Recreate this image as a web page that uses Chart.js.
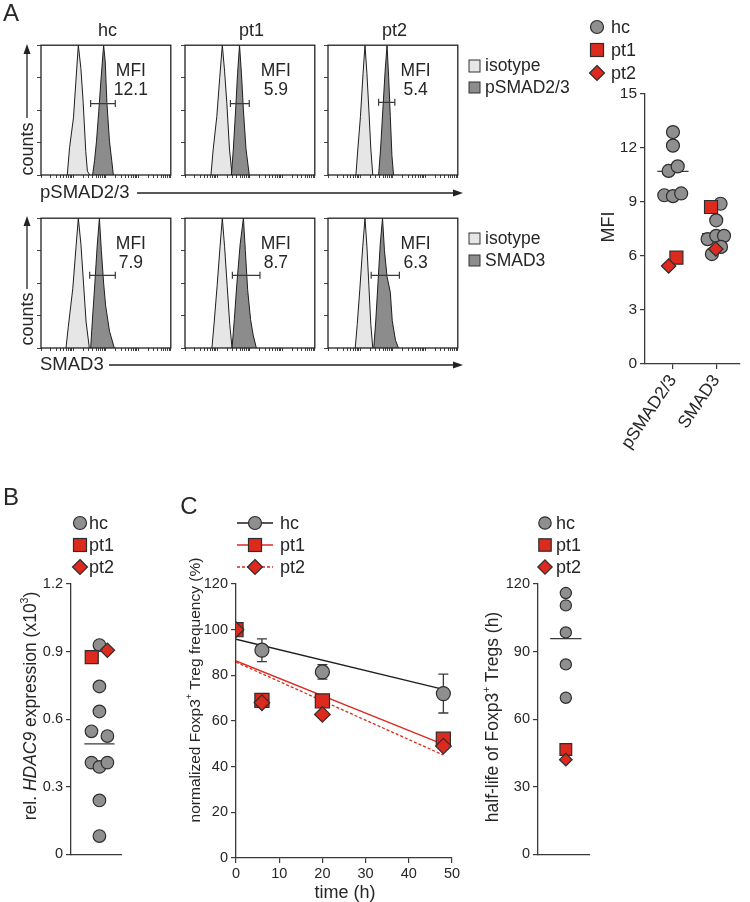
<!DOCTYPE html>
<html>
<head>
<meta charset="utf-8">
<title>SMAD / HDAC9 / Treg half-life</title>
<script src="https://cdn.jsdelivr.net/npm/chart.js@4.4.1/dist/chart.umd.min.js"></script>
<style>
  html, body { margin: 0; padding: 0; background: #fff; }
  body { position: relative; width: 750px; height: 902px; overflow: hidden;
         font-family: "Liberation Sans", Arial, Helvetica, sans-serif; color: #262626; }
  canvas { position: absolute; }
  .t { position: absolute; white-space: nowrap; line-height: 1; z-index: 3; }
  .c { transform: translate(-50%, -50%); }
  .l { transform: translate(0, -50%); }
  .r90 { transform: translate(-50%, -50%) rotate(-90deg); }
  sup { font-size: 0.6em; line-height: 0; position: relative; top: -0.15em; }
  #deco { position: absolute; left: 0; top: 0; z-index: 2; }
</style>
</head>
<body>
<svg id="deco" width="750" height="902"></svg>
<script>
// ---------- data ----------

// A: flow histograms, x in log decades (0-4), y in % of max
const histNames = ['hc', 'pt1', 'pt2'];
const mfiPSmad = ['12.1', '5.9', '5.4'];
const mfiSmad3 = ['7.9', '8.7', '6.3'];

const isoPSmad = [
  [[0.81, 0], [0.88, 21], [1.00, 44], [1.08, 74], [1.15, 100], [1.23, 82], [1.30, 56], [1.38, 18], [1.43, 3], [1.50, 0]],
  [[0.80, 0], [0.87, 20], [0.98, 45], [1.07, 75], [1.15, 100], [1.22, 80], [1.29, 55], [1.37, 20], [1.45, 0]],
  [[0.86, 0], [0.92, 20], [1.00, 45], [1.08, 78], [1.14, 100], [1.20, 78], [1.26, 50], [1.32, 20], [1.38, 0]]
];
const stainPSmad = [
  [[1.59, 0], [1.65, 11], [1.71, 26], [1.78, 49], [1.85, 74], [1.93, 100], [1.98, 87], [2.03, 56], [2.11, 26], [2.18, 11], [2.23, 0]],
  [[1.43, 0], [1.49, 20], [1.56, 50], [1.62, 78], [1.68, 100], [1.74, 78], [1.80, 50], [1.88, 20], [1.98, 0]],
  [[1.56, 0], [1.62, 20], [1.69, 50], [1.76, 80], [1.82, 100], [1.87, 75], [1.92, 45], [1.97, 15], [2.02, 0]]
];
const isoSmad3 = [
  [[0.77, 0], [0.84, 16], [0.98, 46], [1.08, 78], [1.15, 100], [1.23, 80], [1.31, 50], [1.39, 20], [1.49, 0]],
  [[0.83, 0], [0.90, 20], [0.99, 48], [1.08, 78], [1.15, 100], [1.22, 78], [1.30, 48], [1.38, 18], [1.45, 0]],
  [[0.84, 0], [0.90, 18], [0.98, 45], [1.07, 78], [1.14, 100], [1.20, 78], [1.26, 48], [1.32, 18], [1.38, 0]]
];
const stainSmad3 = [
  [[1.53, 0], [1.58, 20], [1.66, 50], [1.73, 78], [1.80, 100], [1.86, 75], [1.93, 50], [1.99, 33], [2.11, 13], [2.26, 0]],
  [[1.45, 0], [1.52, 22], [1.60, 50], [1.70, 80], [1.80, 100], [1.86, 75], [1.93, 45], [2.02, 22], [2.10, 10], [2.20, 0]],
  [[1.41, 0], [1.47, 20], [1.54, 50], [1.61, 80], [1.68, 100], [1.74, 75], [1.82, 55], [1.92, 43], [1.98, 21], [2.08, 6], [2.17, 0]]
];
// MFI gate: [from, to, height]
const gatePSmad = [[1.53, 2.29, 55], [1.40, 1.98, 55], [1.56, 2.06, 56]];
const gateSmad3 = [[1.50, 2.29, 56], [1.46, 2.31, 56], [1.33, 2.20, 56]];

// A: MFI summary
const mfiGroups = ['pSMAD2/3', 'SMAD3'];
const mfiTicks = [0, 3, 6, 9, 12, 15];
const pSmadHc = [12.85, 12.1, 10.7, 10.95, 9.35, 9.3, 9.45];
const pSmadHcJitter = [0, 0, -0.1, 0.11, -0.2, 0, 0.19];
const smad3Hc = [8.88, 7.96, 6.92, 7.1, 7.1, 6.09, 6.49];
const smad3HcJitter = [0.1, 0, -0.2, 0, 0.18, -0.1, 0.11];
const mfiPt1 = [5.89, 8.7];
const mfiPt1Jitter = [0.08, -0.12];
const mfiPt2 = [5.43, 6.37];
const mfiPt2Jitter = [-0.1, -0.01];

// B: HDAC9
const hdacTicks = ['0', '0.3', '0.6', '0.9', '1.2'];
const hdacHc = [0.929, 0.745, 0.634, 0.546, 0.525, 0.407, 0.388, 0.407, 0.239, 0.081];
const hdacHcJitter = [0, 0, 0, -0.28, 0.28, -0.28, 0, 0.28, 0, 0];
const hdacPt1 = [0.875];
const hdacPt2 = [0.906];

// C: Treg frequency over time
const timeTicks = [0, 10, 20, 30, 40, 50];
const freqTicks = [0, 20, 40, 60, 80, 100, 120];
const timeH = [0, 6, 20, 48];
const freqHc = [100, 91, 81.5, 72];
const freqHcSd = [0, 5, 3.2, 8.5];
const freqPt1 = [100, 69, 68.8, 52];
const freqPt2 = [100, 68, 62.9, 49];
const fitTime = [0, 48];
const fitHc = [95.8, 73.9];
const fitPt1 = [86.3, 49.8];
const fitPt2 = [85.8, 45.1];

// C: half-life
const halfTicks = [0, 30, 60, 90, 120];
const halfLifeHc = [116, 110.5, 98.5, 84.3, 69.5];
const halfLifePt1 = [46.5];
const halfLifePt2 = [42];

// ---------- style ----------
const FONT = '"Liberation Sans", Arial, Helvetica, sans-serif';
const INK = '#262626';
const AXIS = '#3a3a3a';
const GRAY = '#8f8f8f';
const RED = '#dc2a1e';
const EDGE = '#2e2e2e';
const ISO_FILL = '#e6e6e6';
const STAIN_FILL = '#8c8c8c';

Chart.defaults.font.family = FONT;
Chart.defaults.color = INK;
Chart.defaults.animation = false;
Chart.defaults.plugins.legend.display = false;
Chart.defaults.plugins.tooltip.enabled = false;

function makeCanvas(left, top, w, h) {
    const c = document.createElement('canvas');
    c.width = w; c.height = h;
    c.style.left = left + 'px'; c.style.top = top + 'px';
    c.style.width = w + 'px'; c.style.height = h + 'px';
    document.body.appendChild(c);
    return c;
}

function label(html, x, y, size, cls) {
    const d = document.createElement('div');
    d.className = 't ' + cls;
    d.style.left = x + 'px'; d.style.top = y + 'px'; d.style.fontSize = size + 'px';
    d.innerHTML = html;
    document.body.appendChild(d);
}

const xy = pts => pts.map(p => ({ x: p[0], y: p[1] }));
const column = (center, vals, jit) => vals.map((v, i) => ({ x: center + (jit ? jit[i] : 0), y: v }));
const mean = vals => vals.reduce((a, b) => a + b, 0) / vals.length;

function meanLine(center, vals, half) {
    const m = mean(vals);
    return { data: [{ x: center - half, y: m }, { x: center + half, y: m }], showLine: true,
             borderColor: AXIS, borderWidth: 1.3, pointRadius: 0, order: 9 };
}

const hcDots = r => ({ pointStyle: 'circle', pointRadius: r, backgroundColor: GRAY, borderColor: EDGE, borderWidth: 1.2, order: 3 });
const pt1Dots = r => ({ pointStyle: 'rect', pointRadius: r, backgroundColor: RED, borderColor: EDGE, borderWidth: 1.2, order: 2 });
const pt2Dots = r => ({ pointStyle: 'rectRot', pointRadius: r, backgroundColor: RED, borderColor: EDGE, borderWidth: 1.2, order: 1 });

function valueAxis(min, max, ticks, width, size) {
    return {
        min: min, max: max,
        afterBuildTicks: s => { s.ticks = ticks.map(t => ({ value: parseFloat(t) })); },
        ticks: { callback: (v, i) => String(ticks[i]), font: { size: size }, color: INK, padding: 3 },
        grid: { drawOnChartArea: false, tickLength: 5, color: AXIS, lineWidth: 1.2 },
        border: { color: AXIS, width: 1.3 },
        afterFit: s => { s.width = width; }
    };
}

function bareX(min, max, h) {
    return { type: 'linear', min: min, max: max, ticks: { display: false }, grid: { display: false },
             border: { color: AXIS, width: 1.3 }, afterFit: s => { s.height = h; } };
}

// ---------- A: histograms ----------
const histLeft = [41, 185, 328];
const mfiAt = [2.77, 2.8, 2.7];

function logDecadeTicks(scale) {
    const t = [];
    for (let d = 0; d < 4; d++) for (let k = 1; k < 10; k++) t.push({ value: d + Math.log10(k) });
    t.push({ value: 4 });
    scale.ticks = t;
}

const frame = {
    id: 'frame',
    afterDatasetsDraw(chart) {
        const { ctx, chartArea: a } = chart;
        ctx.save();
        ctx.strokeStyle = '#222'; ctx.lineWidth = 1.3;
        ctx.strokeRect(a.left, a.top, a.right - a.left, a.bottom - a.top);
        ctx.restore();
    }
};

const mfiText = {
    id: 'mfiText',
    afterDatasetsDraw(chart, args, opts) {
        const { ctx, scales: { x, y } } = chart;
        ctx.save();
        ctx.font = '17.5px ' + FONT; ctx.fillStyle = INK;
        ctx.textAlign = 'center'; ctx.textBaseline = 'middle';
        ctx.fillText('MFI', x.getPixelForValue(opts.at), y.getPixelForValue(80));
        ctx.fillText(opts.value, x.getPixelForValue(opts.at), y.getPixelForValue(65.5));
        ctx.restore();
    }
};

function histogram(col, top, iso, stain, gate, mfi) {
    const cv = makeCanvas(histLeft[col] - 6, top - 2, 141, 141);
    new Chart(cv, {
        type: 'line',
        data: { datasets: [
            { data: [{ x: gate[0], y: gate[2] }, { x: gate[1], y: gate[2] }], borderColor: AXIS, borderWidth: 1.2,
              pointStyle: 'line', pointRotation: 90, pointRadius: 3.5, pointBorderColor: AXIS, pointBorderWidth: 1.2, order: 0 },
            { data: xy(stain), fill: 'origin', backgroundColor: STAIN_FILL, borderColor: '#1e1e1e', borderWidth: 1, pointRadius: 0, order: 1 },
            { data: xy(iso), fill: 'origin', backgroundColor: ISO_FILL, borderColor: '#1e1e1e', borderWidth: 1, pointRadius: 0, order: 2 }
        ] },
        options: {
            responsive: false, devicePixelRatio: 1,
            layout: { padding: { top: 2, right: 2, left: 0, bottom: 0 } },
            scales: {
                x: { type: 'linear', min: 0, max: 4, afterBuildTicks: logDecadeTicks, ticks: { display: false },
                     grid: { drawOnChartArea: false, tickLength: 3, color: '#444', lineWidth: 1 },
                     border: { display: false }, afterFit: s => { s.height = 6; } },
                y: { min: 0, max: 100, ticks: { display: false, stepSize: 25 },
                     grid: { drawOnChartArea: false, tickLength: 4, color: '#444', lineWidth: 1 },
                     border: { display: false }, afterFit: s => { s.width = 6; } }
            },
            plugins: { mfiText: { at: mfiAt[col], value: mfi } }
        },
        plugins: [frame, mfiText]
    });
}

for (let i = 0; i < 3; i++) {
    histogram(i, 42, isoPSmad[i], stainPSmad[i], gatePSmad[i], mfiPSmad[i]);
    histogram(i, 215, isoSmad3[i], stainSmad3[i], gateSmad3[i], mfiSmad3[i]);
    label(histNames[i], histLeft[i] + 66.5, 30, 18, 'c');
}

// ---------- A: MFI dot plot ----------
new Chart(makeCanvas(585, 81, 165, 393), {
    type: 'scatter',
    data: { datasets: [
        meanLine(1, pSmadHc, 0.36), meanLine(2, smad3Hc, 0.33),
        Object.assign({ data: column(1, pSmadHc, pSmadHcJitter).concat(column(2, smad3Hc, smad3HcJitter)) }, hcDots(6.5)),
        Object.assign({ data: column(1, [mfiPt1[0]], [mfiPt1Jitter[0]]).concat(column(2, [mfiPt1[1]], [mfiPt1Jitter[1]])) }, pt1Dots(9.2)),
        Object.assign({ data: column(1, [mfiPt2[0]], [mfiPt2Jitter[0]]).concat(column(2, [mfiPt2[1]], [mfiPt2Jitter[1]])) }, pt2Dots(7.2))
    ] },
    options: {
        responsive: false, devicePixelRatio: 1,
        layout: { padding: { top: 10.5, right: 0, left: 0, bottom: 0 } },
        scales: {
            x: { type: 'linear', min: 0.354, max: 2.54,
                 afterBuildTicks: s => { s.ticks = mfiGroups.map((g, i) => ({ value: i + 1 })); },
                 ticks: { callback: (v, i) => mfiGroups[i], minRotation: 56, maxRotation: 56, font: { size: 17.5 }, color: INK, padding: 2 },
                 grid: { drawOnChartArea: false, tickLength: 5, color: AXIS, lineWidth: 1.2 },
                 border: { color: AXIS, width: 1.3 }, afterFit: s => { s.height = 110; } },
            y: valueAxis(0, 15, mfiTicks, 60, 15.5)
        }
    }
});
label('MFI', 608, 227, 18, 'r90');

// ---------- B: HDAC9 ----------
new Chart(makeCanvas(11, 572, 121, 294), {
    type: 'scatter',
    data: { datasets: [
        meanLine(1, hdacHc, 0.53),
        Object.assign({ data: column(1, hdacHc, hdacHcJitter) }, hcDots(6.3)),
        Object.assign({ data: column(1, hdacPt1, [-0.27]) }, pt1Dots(9.2)),
        Object.assign({ data: column(1, hdacPt2, [0.28]) }, pt2Dots(7.2))
    ] },
    options: {
        responsive: false, devicePixelRatio: 1,
        layout: { padding: { top: 12, right: 4, left: 0, bottom: 0 } },
        scales: { x: bareX(0, 1.78, 8), y: valueAxis(0, 1.2, hdacTicks, 60, 14.5) }
    }
});
label('rel. <i>HDAC9</i> expression (x10<sup>3</sup>)', 31, 706, 17.5, 'r90');

// ---------- C: frequency over time ----------
const errorBars = {
    id: 'errorBars',
    beforeDatasetsDraw(chart) {
        const { ctx, scales: { x, y } } = chart;
        ctx.save();
        ctx.strokeStyle = AXIS; ctx.lineWidth = 1.3;
        timeH.forEach((t, i) => {
            if (!freqHcSd[i]) return;
            const px = x.getPixelForValue(t);
            const hi = y.getPixelForValue(freqHc[i] + freqHcSd[i]);
            const lo = y.getPixelForValue(freqHc[i] - freqHcSd[i]);
            ctx.beginPath();
            ctx.moveTo(px, hi); ctx.lineTo(px, lo);
            ctx.moveTo(px - 5, hi); ctx.lineTo(px + 5, hi);
            ctx.moveTo(px - 5, lo); ctx.lineTo(px + 5, lo);
            ctx.stroke();
        });
        ctx.restore();
    }
};

const fitLine = (vals, color, dash, order) => ({
    data: fitTime.map((t, i) => ({ x: t, y: vals[i] })), showLine: true, borderColor: color,
    borderWidth: 1.3, borderDash: dash, pointRadius: 0, order: order
});

new Chart(makeCanvas(200, 572, 264, 314), {
    type: 'scatter',
    data: { datasets: [
        fitLine(fitHc, '#1e1e1e', [], 7),
        fitLine(fitPt1, RED, [], 8),
        fitLine(fitPt2, RED, [3, 2], 9),
        Object.assign({ data: timeH.map((t, i) => ({ x: t, y: freqHc[i] })) }, hcDots(7)),
        Object.assign({ data: timeH.map((t, i) => ({ x: t, y: freqPt1[i] })) }, pt1Dots(10)),
        Object.assign({ data: timeH.map((t, i) => ({ x: t, y: freqPt2[i] })) }, pt2Dots(7.8))
    ] },
    options: {
        responsive: false, devicePixelRatio: 1,
        layout: { padding: { top: 12, right: 12, left: 0, bottom: 0 } },
        scales: {
            x: { type: 'linear', min: 0, max: 50,
                 afterBuildTicks: s => { s.ticks = timeTicks.map(v => ({ value: v })); },
                 ticks: { callback: (v, i) => String(timeTicks[i]), font: { size: 14.5 }, color: INK, padding: 2, maxRotation: 0 },
                 grid: { drawOnChartArea: false, tickLength: 5, color: AXIS, lineWidth: 1.2 },
                 border: { color: AXIS, width: 1.3 }, afterFit: s => { s.height = 28; } },
            y: valueAxis(0, 120, freqTicks, 36, 14.5)
        }
    },
    plugins: [errorBars]
});
label('normalized Foxp3<sup>+</sup> Treg frequency (%)', 195, 690, 15.5, 'r90');
label('time (h)', 345, 892, 18, 'c');

// ---------- C: half-life ----------
new Chart(makeCanvas(498, 572, 101, 294), {
    type: 'scatter',
    data: { datasets: [
        meanLine(1, halfLifeHc, 0.56),
        Object.assign({ data: column(1, halfLifeHc) }, hcDots(5.6)),
        Object.assign({ data: column(1, halfLifePt1) }, pt1Dots(8.3)),
        Object.assign({ data: column(1, halfLifePt2) }, pt2Dots(6.3))
    ] },
    options: {
        responsive: false, devicePixelRatio: 1,
        layout: { padding: { top: 12, right: 4, left: 0, bottom: 0 } },
        scales: { x: bareX(0, 1.85, 8), y: valueAxis(0, 120, halfTicks, 40, 14.5) }
    }
});
label('half-life of Foxp3<sup>+</sup> Tregs (h)', 493, 717, 17.5, 'r90');

// ---------- decorations: arrows, legends, panel letters ----------
const svg = document.getElementById('deco');
function svgEl(tag, attrs) {
    const e = document.createElementNS('http://www.w3.org/2000/svg', tag);
    for (const k in attrs) e.setAttribute(k, attrs[k]);
    svg.appendChild(e);
    return e;
}
function key(kind, cx, cy, s) {
    const st = { stroke: EDGE, 'stroke-width': 1.2 };
    if (kind === 'hc') svgEl('circle', Object.assign({ cx: cx, cy: cy, r: s, fill: GRAY }, st));
    else if (kind === 'pt1') svgEl('rect', Object.assign({ x: cx - s, y: cy - s, width: 2 * s, height: 2 * s, fill: RED }, st));
    else svgEl('polygon', Object.assign({ points: [cx, cy - s - 1, cx + s + 1, cy, cx, cy + s + 1, cx - s - 1, cy].join(' '), fill: RED }, st));
}
function arrowUp(x, y1, y2) {
    svgEl('line', { x1: x, y1: y1, x2: x, y2: y2 + 6, stroke: '#222', 'stroke-width': 1.3 });
    svgEl('polygon', { points: [x, y2, x - 3.5, y2 + 10, x + 3.5, y2 + 10].join(' '), fill: '#222' });
}
function arrowRight(y, x1, x2) {
    svgEl('line', { x1: x1, y1: y, x2: x2 - 6, y2: y, stroke: '#222', 'stroke-width': 1.3 });
    svgEl('polygon', { points: [x2, y, x2 - 10, y - 3.5, x2 - 10, y + 3.5].join(' '), fill: '#222' });
}

arrowUp(27, 118, 44);
arrowUp(27, 289, 216);
label('counts', 27, 149, 18, 'r90');
label('counts', 27, 319, 18, 'r90');
arrowRight(193, 137, 463);
arrowRight(365, 109, 463);
label('pSMAD2/3', 40, 192, 18.5, 'l');
label('SMAD3', 40, 364, 18.5, 'l');

// histogram keys
svgEl('rect', { x: 469, y: 60, width: 11, height: 12, fill: ISO_FILL, stroke: '#333', 'stroke-width': 1 });
svgEl('rect', { x: 469, y: 82, width: 11, height: 11, fill: STAIN_FILL, stroke: '#333', 'stroke-width': 1 });
svgEl('rect', { x: 469, y: 233, width: 11, height: 11, fill: ISO_FILL, stroke: '#333', 'stroke-width': 1 });
svgEl('rect', { x: 469, y: 255, width: 11, height: 11, fill: STAIN_FILL, stroke: '#333', 'stroke-width': 1 });
label('isotype', 485, 66, 17.5, 'l');
label('pSMAD2/3', 485, 88, 17.5, 'l');
label('isotype', 485, 239, 17.5, 'l');
label('SMAD3', 485, 261, 17.5, 'l');

// group keys
const keyRows = [0, 22, 44];
histNames.forEach((n, i) => {
    key(n, 597, 27 + keyRows[i] * 23 / 22, 6.5);
    label(n, 611, 27 + keyRows[i] * 23 / 22, 18, 'l');
    key(n, 80, 523 + keyRows[i], 6.5);
    label(n, 89, 523 + keyRows[i], 18, 'l');
    svgEl('line', { x1: 237, y1: 523 + keyRows[i], x2: 273, y2: 523 + keyRows[i], stroke: i === 0 ? '#1e1e1e' : RED,
                    'stroke-width': 1.3, 'stroke-dasharray': i === 2 ? '3 2' : 'none' });
    key(n, 255, 523 + keyRows[i], 6.5);
    label(n, 280, 523 + keyRows[i], 18, 'l');
    key(n, 545, 523 + keyRows[i], 6.2);
    label(n, 556, 523 + keyRows[i], 18, 'l');
});

label('A', 11, 13, 24, 'c');
label('B', 11, 497, 24, 'c');
label('C', 189, 506, 24, 'c');
</script>
</body>
</html>
